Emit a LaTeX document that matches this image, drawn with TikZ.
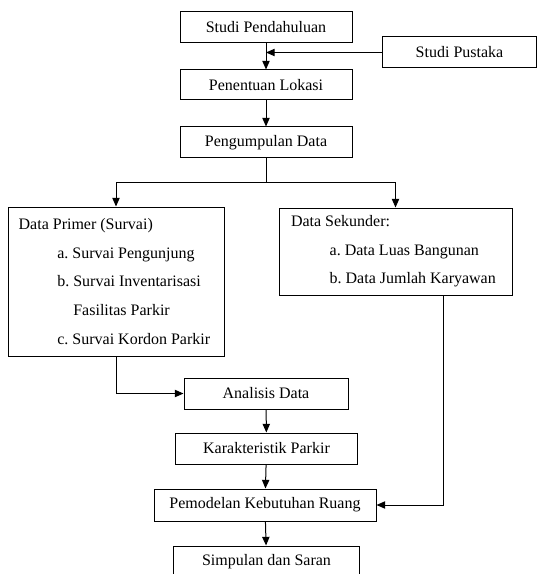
\documentclass[tikz,border=0pt]{standalone}
\usepackage{fontspec}
\setmainfont{Liberation Serif}
\usepackage{tikz}
\usetikzlibrary{arrows.meta}
\tikzset{
  kotak/.style={rectangle, draw=black, line width=0.75pt, fill=white,
                align=center, font=\fontsize{12}{14}\selectfont, inner sep=0pt,
                minimum width=#1, minimum height=23.25pt},
  daftar/.style={rectangle, draw=black, line width=0.75pt, fill=white, align=flush left,
                 font=\fontsize{12}{21.4}\selectfont\frenchspacing, inner xsep=6pt, inner ysep=0pt},
  garis/.style={line width=0.75pt, draw=black},
  panah/.style={-{Triangle[length=6.5pt,width=5.5pt]}, line width=0.75pt, draw=black},
}

\begin{document}
\begin{tikzpicture}[x=0.75pt, y=-0.75pt]
  \useasboundingbox (0,0) rectangle (538,574);
  % kotak utama
  \node[kotak=129pt] (pendahuluan) at (266,27.5) {Studi Pendahuluan};
  \node[kotak=116pt] (pustaka) at (459.5,52.5) {Studi Pustaka};
  \node[kotak=129pt, minimum height=22.5pt] (lokasi) at (266,85) {Penentuan Lokasi};
  \node[kotak=129pt] (pengumpulan) at (266,142.5) {Pengumpulan Data};
  \node[daftar, text width=150pt, minimum height=111.75pt] (primer) at (116,281.5)
    {\hspace*{2pt}Data Primer (Survai)\\
     \hspace*{31pt}a. Survai Pengunjung\\
     \hspace*{31pt}b. Survai Inventarisasi\\
     \hspace*{43pt}Fasilitas Parkir\\
     \hspace*{31pt}c. Survai Kordon Parkir};
  \node[daftar, text width=162.75pt, minimum height=65.25pt] (sekunder) at (395.5,251.5)
    {\hspace*{3pt}Data Sekunder:\\
     \hspace*{32pt}a. Data Luas Bangunan\\
     \hspace*{32pt}b. Data Jumlah Karyawan};
  \node[kotak=123pt] (analisis) at (266,393.5) {Analisis Data};
  \node[kotak=136pt] (karakteristik) at (266.5,448.5) {Karakteristik Parkir};
  \node[kotak=166.5pt, minimum height=24pt] (pemodelan) at (265,505) {Pemodelan Kebutuhan Ruang};
  \node[kotak=140pt] (simpulan) at (266.5,561.5) {Simpulan dan Saran};

  % penghubung
  \coordinate (sambung) at (pendahuluan.south |- pustaka.west);
  \coordinate (cabang) at (266,182);
  \draw[panah] (pendahuluan) -- (lokasi);
  \draw[panah] (pustaka) -- (sambung);
  \draw[panah] (lokasi) -- (pengumpulan);
  \draw[garis] (pengumpulan.south) -- (cabang);
  \draw[panah] (cabang) -| (primer.north);
  \draw[panah] (cabang) -| (sekunder.north);
  \draw[panah] (primer.south) |- (analisis.west);
  \draw[panah] ([xshift=-51.75pt]sekunder.south east) |- (pemodelan.east);
  \draw[panah] (analisis) -- (karakteristik);
  \draw[panah] (karakteristik) -- (pemodelan);
  \draw[panah] (pemodelan) -- (simpulan);
\end{tikzpicture}
\end{document}
